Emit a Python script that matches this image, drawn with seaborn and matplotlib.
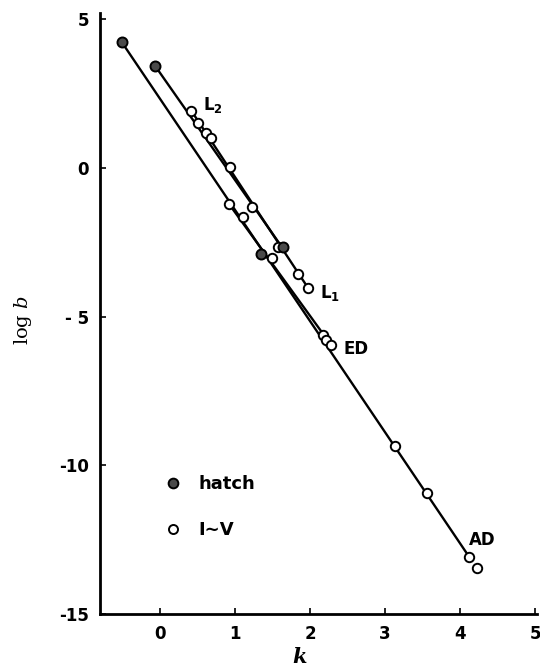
import matplotlib
matplotlib.use("Agg")
import matplotlib.pyplot as plt
import seaborn as sns
import pandas as pd
from matplotlib.lines import Line2D

# ---- data ----
hatch_k = [-0.51, -0.06, 1.35, 1.64]
hatch_logb = [4.24, 3.42, -2.90, -2.64]

open_k = [0.42, 0.51, 0.61, 0.68, 0.93, 1.22, 1.57, 1.84, 1.97,
          0.92, 1.11, 1.49, 2.17, 2.21, 2.28, 3.13, 3.56, 4.12, 4.23]
open_logb = [1.92, 1.50, 1.19, 1.02, 0.04, -1.30, -2.67, -3.58, -4.02,
             -1.21, -1.63, -3.01, -5.60, -5.78, -5.95, -9.36, -10.93, -13.08, -13.45]

line_names = ["AD", "AD", "ED", "ED", "Lh", "Lh", "L12", "L12"]
line_k = [-0.51, 4.12, 0.92, 2.28, -0.06, 1.62, 0.42, 1.97]
line_logb = [4.24, -13.08, -1.21, -5.95, 3.42, -2.64, 1.92, -4.02]

label_text = ["L$_\\mathbf{2}$", "L$_\\mathbf{1}$", "ED", "AD"]
label_k = [0.57, 2.13, 2.44, 4.11]
label_logb = [2.11, -4.2, -6.1, -12.5]

xticks = [0, 1, 2, 3, 4, 5]
yticks = [5, 0, -5, -10, -15]
ytick_labels = ["5", "0", "- 5", "-10", "-15"]
legend_labels = ["hatch", "I∼V"]

# ---- plot ----
sns.set_style("ticks")
plt.rcParams["font.family"] = ["DejaVu Sans"]
plt.rcParams["axes.unicode_minus"] = False
plt.rcParams["mathtext.fontset"] = "dejavusans"
for key in ["text.color", "axes.labelcolor", "xtick.color", "ytick.color", "axes.edgecolor"]:
    plt.rcParams[key] = "black"

fig = plt.figure(figsize=(5.4, 6.72), dpi=100)
ax = fig.add_axes([0.185, 0.0863, 0.809, 0.8937])

lines_df = pd.DataFrame({"k": line_k, "logb": line_logb, "line": line_names})
sns.lineplot(data=lines_df, x="k", y="logb", units="line", estimator=None,
             color="black", linewidth=1.7, ax=ax, legend=False, zorder=2)

open_df = pd.DataFrame({"k": open_k, "logb": open_logb})
sns.scatterplot(data=open_df, x="k", y="logb", s=46, facecolor="white",
                edgecolor="black", linewidth=1.4, ax=ax, zorder=3, legend=False)

hatch_df = pd.DataFrame({"k": hatch_k, "logb": hatch_logb})
sns.scatterplot(data=hatch_df, x="k", y="logb", s=52, facecolor="#4a4a4a",
                edgecolor="black", linewidth=1.4, ax=ax, zorder=4, legend=False)

for t, kx, ly in zip(label_text, label_k, label_logb):
    ax.text(kx, ly, t, fontsize=12, fontweight="bold", ha="left", va="center")

ax.set_xlim(-0.8, 5.02)
ax.set_ylim(-15, 5.2)
ax.set_xticks(xticks)
ax.set_xticklabels([str(v) for v in xticks], fontsize=12, fontweight="bold")
ax.set_yticks(yticks)
ax.set_yticklabels(ytick_labels, fontsize=12, fontweight="bold")
ax.tick_params(direction="in", length=4, width=1.2, pad=8)
for side in ["top", "right"]:
    ax.spines[side].set_visible(False)
for side in ["left", "bottom"]:
    ax.spines[side].set_linewidth(2.0)

ax.set_xlabel("k", fontsize=15, fontweight="bold", fontstyle="italic",
              family="DejaVu Serif")
ax.xaxis.set_label_coords(0.458, -0.055)
ax.set_ylabel(r"$\mathrm{log}\ b$", fontsize=14, math_fontfamily="dejavuserif")
ax.yaxis.set_label_coords(-0.15, 0.49)

handles = [
    Line2D([], [], marker="o", linestyle="none", markersize=7,
           markerfacecolor="#4a4a4a", markeredgecolor="black", markeredgewidth=1.4),
    Line2D([], [], marker="o", linestyle="none", markersize=6.5,
           markerfacecolor="white", markeredgecolor="black", markeredgewidth=1.4),
]
leg = ax.legend(handles, legend_labels, loc="upper left",
                bbox_to_anchor=(0.11, 0.258), frameon=False,
                handlelength=1.0, handletextpad=0.9, labelspacing=1.55,
                prop={"weight": "bold", "size": 13})

fig.savefig("out.png", dpi=100)
